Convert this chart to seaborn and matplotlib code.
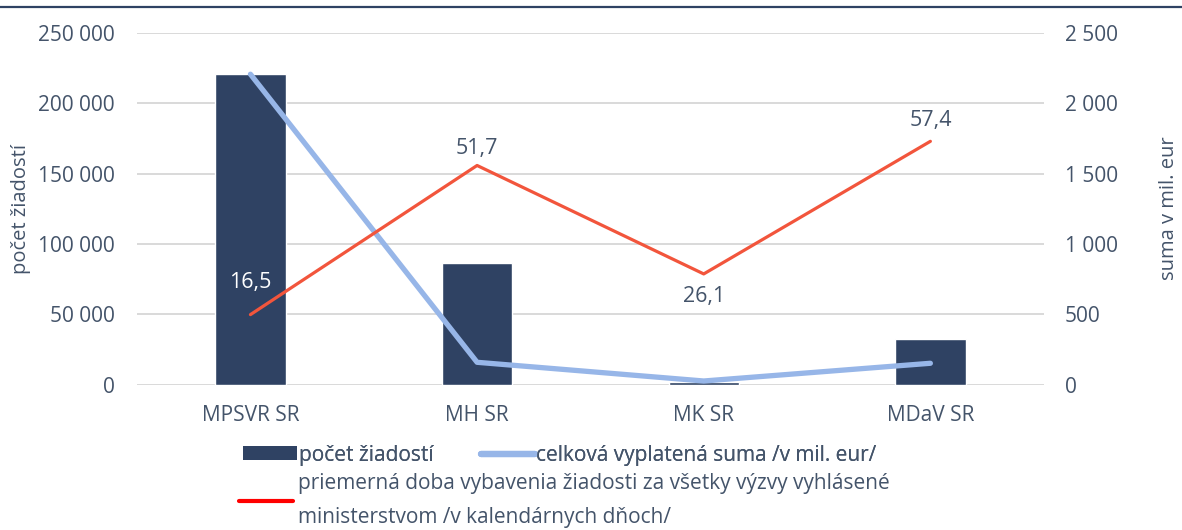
import numpy as np
import matplotlib.pyplot as plt
import seaborn as sns
from matplotlib.patches import Patch
from matplotlib.lines import Line2D

# data
categories = ['MPSVR SR', 'MH SR', 'MK SR', 'MDaV SR']
pocet_ziadosti = [220600, 86600, 2000, 32200]
vyplatena_suma = [2206, 158, 25, 151]
priemerna_doba = [16.5, 51.7, 26.1, 57.4]

left_ticks = [0, 50000, 100000, 150000, 200000, 250000]
right_ticks = [0, 500, 1000, 1500, 2000, 2500]

navy = '#2F4263'
light_blue = '#97B6E8'
red = '#F2553C'
text_col = '#44546A'
grid_col = '#D9D9D9'

sns.set_style('white')
plt.rcParams['font.family'] = ['Open Sans', 'DejaVu Sans']
plt.rcParams['font.size'] = 15

fig = plt.figure(figsize=(11.82, 5.30), dpi=100)
ax = fig.add_axes([0.116, 0.2745, 0.767, 0.6635])

def fmt(v):
    return f'{v:,.0f}'.replace(',', ' ')

# bars - number of applications
sns.barplot(x=categories, y=pocet_ziadosti, ax=ax, color=navy, width=0.31,
            saturation=1, zorder=2)
ax.set_ylim(0, 250000)
ax.set_yticks(left_ticks)
ax.set_yticklabels([fmt(t) for t in left_ticks])
ax.yaxis.grid(True, color=grid_col, lw=1.4, zorder=0)
ax.set_axisbelow(True)
ax.set_xlim(-0.5, len(categories) - 0.5)
ax.tick_params(axis='both', length=0, colors=text_col, labelsize=15)
ax.tick_params(axis='y', pad=16)
ax.tick_params(axis='x', pad=15)
ax.set_ylabel('počet žiadostí', color=text_col, fontsize=14.5, labelpad=5)
for s in ax.spines.values():
    s.set_visible(False)

pos = np.arange(len(categories))

# right axis - paid sum
ax2 = ax.twinx()
sns.lineplot(x=pos, y=vyplatena_suma, ax=ax2, color=light_blue, lw=3.8,
             sort=False, solid_capstyle='round', zorder=3)
ax2.set_ylim(0, 2500)
ax2.set_yticks(right_ticks)
ax2.set_yticklabels([fmt(t) for t in right_ticks])
ax2.tick_params(axis='y', length=0, colors=text_col, labelsize=15, pad=15)
ax2.set_ylabel('suma v mil. eur', color=text_col, fontsize=14.5, labelpad=30)
for s in ax2.spines.values():
    s.set_visible(False)

# hidden axis - average processing time
ax3 = ax.twinx()
sns.lineplot(x=pos, y=priemerna_doba, ax=ax3, color=red, lw=2.3, sort=False,
             zorder=4)
ax3.set_ylim(0, 83)
ax3.axis('off')
ax3.set_xlim(-0.5, len(categories) - 0.5)

label_offsets = [23, 12, -16, 15]
label_colors = ['white', text_col, text_col, text_col]
for i, v in enumerate(priemerna_doba):
    ax3.annotate(f'{v:.1f}'.replace('.', ','), (pos[i], v),
                 xytext=(0, label_offsets[i]), textcoords='offset points',
                 ha='center', va='center', fontsize=15.5, color=label_colors[i])

# legends
h1 = [Patch(facecolor=navy, edgecolor='none'),
      Line2D([0], [0], color=light_blue, lw=4.5, solid_capstyle='round')]
leg1 = fig.legend(h1, ['počet žiadostí', 'celková vyplatená suma /v mil. eur/'],
                  ncol=2, loc='center left', bbox_to_anchor=(0.19, 0.141),
                  frameon=False, handlelength=2.6, handleheight=0.65,
                  handletextpad=0.05, columnspacing=2.3, fontsize=15,
                  labelcolor=text_col)
h2 = [Line2D([0], [0], color='#FF0000', lw=3)]
leg2 = fig.legend(h2, ['priemerná doba vybavenia žiadosti za všetky výzvy vyhlásené\n'
                       'ministerstvom /v kalendárnych dňoch/'],
                  loc='center left', bbox_to_anchor=(0.186, 0.056),
                  frameon=False, handlelength=2.6, handletextpad=0.25,
                  fontsize=15, labelcolor=text_col)
for t in leg2.get_texts():
    t.set_linespacing(1.85)
fig.add_artist(leg1)

# dark rule at top of the figure
fig.add_artist(Line2D([0, 1], [0.987, 0.987], color=navy, lw=1.6,
                      transform=fig.transFigure))

fig.savefig('out.png', dpi=100)
